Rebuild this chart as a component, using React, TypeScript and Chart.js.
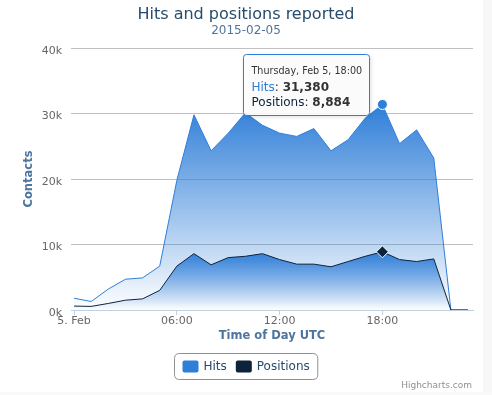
import React, { useEffect, useRef } from "react";
import { Chart, registerables } from "chart.js";

Chart.register(...registerables);

const HOURS = [0, 1, 2, 3, 4, 5, 6, 7, 8, 9, 10, 11, 12, 13, 14, 15, 16, 17, 18, 19, 20, 21, 22, 23];
const HITS = [1800, 1300, 3200, 4700, 4900, 6700, 19800, 29800, 24300, 27000, 30100, 28200, 27000, 26500, 27700, 24300, 26000, 29300, 31380, 25400, 27500, 23200, 0, 0];
const POSITIONS = [600, 550, 1000, 1500, 1700, 3000, 6700, 8600, 6900, 8000, 8200, 8600, 7700, 7000, 7000, 6600, 7400, 8200, 8884, 7700, 7400, 7800, 0, 0];
const SERIES_NAMES = ["Hits", "Positions"];
const SERIES_COLORS = ["#2f7ed8", "#0d233a"];
const X_TICKS = [0, 6, 12, 18];
const X_TICK_LABELS = ["5. Feb", "06:00", "12:00", "18:00"];
const Y_TICKS = [0, 10000, 20000, 30000, 40000];
const TITLE = "Hits and positions reported";
const SUBTITLE = "2015-02-05";
const X_TITLE = "Time of Day UTC";
const Y_TITLE = "Contacts";
const CREDITS = "Highcharts.com";
const HOVER_INDEX = 18;
const TOOLTIP_HEADER = "Thursday, Feb 5, 18:00";

const FONT = '"DejaVu Sans", Verdana, sans-serif';

function fmt(n: number): string {
  return n.toLocaleString("en-US");
}

function gradientFill(values: number[]) {
  return (ctx: any) => {
    const chart = ctx.chart;
    const area = chart.chartArea;
    if (!area) return "rgba(47,126,216,0.5)";
    const y = chart.scales.y;
    const top = y.getPixelForValue(Math.max(...values));
    const g = chart.ctx.createLinearGradient(0, top, 0, area.bottom);
    g.addColorStop(0, "rgba(47,126,216,1)");
    g.addColorStop(1, "rgba(47,126,216,0)");
    return g;
  };
}

function roundRect(c: CanvasRenderingContext2D, x: number, y: number, w: number, h: number, r: number) {
  c.beginPath();
  c.moveTo(x + r, y);
  c.lineTo(x + w - r, y);
  c.quadraticCurveTo(x + w, y, x + w, y + r);
  c.lineTo(x + w, y + h - r);
  c.quadraticCurveTo(x + w, y + h, x + w - r, y + h);
  c.lineTo(x + r, y + h);
  c.quadraticCurveTo(x, y + h, x, y + h - r);
  c.lineTo(x, y + r);
  c.quadraticCurveTo(x, y, x + r, y);
  c.closePath();
}

const decorPlugin = {
  id: "decor",
  afterDraw(chart: any) {
    const c: CanvasRenderingContext2D = chart.ctx;
    const area = chart.chartArea;
    const W = chart.width;
    c.save();
    // Title
    c.textAlign = "center";
    c.textBaseline = "alphabetic";
    c.fillStyle = "#274b6d";
    c.font = `16px ${FONT}`;
    c.fillText(TITLE, W / 2, 19);
    c.fillStyle = "#4d759e";
    c.font = `12px ${FONT}`;
    c.fillText(SUBTITLE, W / 2, 34);

    // Axis titles
    c.font = `bold 11.5px ${FONT}`;
    c.fillStyle = "#4d759e";
    c.textBaseline = "middle";
    c.fillText(X_TITLE, (area.left + area.right) / 2, 336);
    c.save();
    c.translate(29, (area.top + area.bottom) / 2);
    c.rotate(-Math.PI / 2);
    c.fillText(Y_TITLE, 0, 0);
    c.restore();

    // Legend
    c.font = `12px ${FONT}`;
    const w1 = c.measureText(SERIES_NAMES[0]).width;
    const w2 = c.measureText(SERIES_NAMES[1]).width;
    const total = 8 + 16 + 5 + w1 + 9 + 16 + 5 + w2 + 8;
    const lx = Math.round(W / 2 - total / 2) + 0.5;
    const ly = 353.5;
    roundRect(c, lx, ly, total, 26, 5);
    c.strokeStyle = "#909090";
    c.lineWidth = 1;
    c.stroke();
    let cx = lx + 8;
    const widths = [w1, w2];
    for (let i = 0; i < 2; i++) {
      roundRect(c, cx, 360.5, 16, 12, 2);
      c.fillStyle = SERIES_COLORS[i];
      c.fill();
      cx += 16 + 5;
      c.fillStyle = "#274b6d";
      c.textAlign = "left";
      c.textBaseline = "middle";
      c.fillText(SERIES_NAMES[i], cx, 367);
      cx += widths[i] + 9;
    }

    // Credits
    c.font = `9px ${FONT}`;
    c.fillStyle = "#909090";
    c.textAlign = "right";
    c.fillText(CREDITS, 472, 386);

    // Tooltip
    const px = chart.scales.x.getPixelForValue(HOURS[HOVER_INDEX]);
    const headFont = `9.6px ${FONT}`;
    c.font = headFont;
    const hw = c.measureText(TOOLTIP_HEADER).width;
    c.font = `12px ${FONT}`;
    const l2a = SERIES_NAMES[0];
    const l2b = ": ";
    const l2c = fmt(HITS[HOVER_INDEX]);
    const l3a = SERIES_NAMES[1];
    const l3c = fmt(POSITIONS[HOVER_INDEX]);
    const wa2 = c.measureText(l2a).width;
    const wb = c.measureText(l2b).width;
    const wa3 = c.measureText(l3a).width;
    c.font = `bold 12px ${FONT}`;
    const wc2 = c.measureText(l2c).width;
    const wc3 = c.measureText(l3c).width;
    const tw = Math.max(hw, wa2 + wb + wc2, wa3 + wb + wc3);
    const bw = Math.round(tw + 15);
    const bx = Math.round(px - 13 - bw) + 0.5;
    const by = 54.5;
    const bh = 61;
    c.save();
    c.shadowColor = "rgba(0,0,0,0.18)";
    c.shadowBlur = 4;
    c.shadowOffsetX = 1;
    c.shadowOffsetY = 1;
    roundRect(c, bx, by, bw, bh, 3);
    c.fillStyle = "rgba(255,255,255,0.9)";
    c.fill();
    c.restore();
    roundRect(c, bx, by, bw, bh, 3);
    c.strokeStyle = SERIES_COLORS[0];
    c.lineWidth = 1;
    c.stroke();
    const tx = bx + 8;
    c.textAlign = "left";
    c.textBaseline = "middle";
    c.font = headFont;
    c.fillStyle = "#333333";
    c.fillText(TOOLTIP_HEADER, tx, by + 17);
    c.font = `12px ${FONT}`;
    c.fillStyle = SERIES_COLORS[0];
    c.fillText(l2a, tx, by + 33);
    c.fillStyle = "#333333";
    c.fillText(l2b, tx + wa2, by + 33);
    c.font = `bold 12px ${FONT}`;
    c.fillText(l2c, tx + wa2 + wb, by + 33);
    c.font = `12px ${FONT}`;
    c.fillStyle = SERIES_COLORS[1];
    c.fillText(l3a, tx, by + 48);
    c.fillStyle = "#333333";
    c.fillText(l2b, tx + wa3, by + 48);
    c.font = `bold 12px ${FONT}`;
    c.fillText(l3c, tx + wa3 + wb, by + 48);
    c.restore();
  },
};

export default function App() {
  const ref = useRef<HTMLCanvasElement | null>(null);
  useEffect(() => {
    if (!ref.current) return;
    const hover = (ctx: any) => (ctx.dataIndex === HOVER_INDEX ? 5 : 0);
    const chart = new Chart(ref.current, {
      type: "line",
      data: {
        datasets: [
          {
            label: SERIES_NAMES[0],
            data: HOURS.map((h, i) => ({ x: h, y: HITS[i] })),
            borderColor: SERIES_COLORS[0],
            borderWidth: 1,
            backgroundColor: gradientFill(HITS),
            fill: "origin",
            tension: 0,
            order: 1,
            pointRadius: hover,
            pointBackgroundColor: SERIES_COLORS[0],
            pointBorderColor: "#ffffff",
            pointBorderWidth: 1,
            pointStyle: "circle",
          },
          {
            label: SERIES_NAMES[1],
            data: HOURS.map((h, i) => ({ x: h, y: POSITIONS[i] })),
            borderColor: SERIES_COLORS[1],
            borderWidth: 1,
            backgroundColor: gradientFill(POSITIONS),
            fill: "origin",
            tension: 0,
            order: 0,
            pointRadius: (ctx: any) => (ctx.dataIndex === HOVER_INDEX ? 6 : 0),
            pointBackgroundColor: SERIES_COLORS[1],
            pointBorderColor: "#ffffff",
            pointBorderWidth: 1,
            pointStyle: "rectRot",
          },
        ],
      } as any,
      options: {
        animation: false,
        responsive: false,
        devicePixelRatio: 1,
        events: [],
        layout: { padding: { left: 0, top: 48, right: 19, bottom: 45 } },
        plugins: {
          legend: { display: false },
          tooltip: { enabled: false },
          title: { display: false },
        },
        scales: {
          x: {
            type: "linear",
            min: -0.18,
            max: 23.29,
            afterBuildTicks: (s: any) => {
              s.ticks = X_TICKS.map((v) => ({ value: v }));
            },
            afterFit: (s: any) => {
              s.height = 40;
            },
            ticks: {
              autoSkip: false,
              maxRotation: 0,
              color: "#666666",
              font: { family: FONT, size: 11 },
              padding: 0,
              callback: (v: any) => X_TICK_LABELS[X_TICKS.indexOf(Number(v))],
            },
            grid: {
              drawOnChartArea: false,
              drawTicks: true,
              tickLength: 5,
              color: "#C0D0E0",
            },
            border: { display: true, color: "#C0D0E0", width: 1 },
          },
          y: {
            type: "linear",
            min: 0,
            max: 40000,
            afterBuildTicks: (s: any) => {
              s.ticks = Y_TICKS.map((v) => ({ value: v }));
            },
            afterFit: (s: any) => {
              s.width = 71;
            },
            ticks: {
              color: "#666666",
              font: { family: FONT, size: 11 },
              padding: 9,
              labelOffset: 3,
              callback: (v: any) => `${Number(v) / 1000}k`,
            },
            grid: {
              drawTicks: false,
              color: (ctx: any) => (ctx.tick && ctx.tick.value === 0 ? "rgba(0,0,0,0)" : "#C0C0C0"),
            },
            border: { display: false },
          },
        },
      },
      plugins: [decorPlugin],
    } as any);
    return () => chart.destroy();
  }, []);

  return (
    <div style={{ position: "fixed", left: 0, top: 0, width: 492, height: 395, background: "#ffffff" }}>
      <canvas ref={ref} width={492} height={395} style={{ display: "block" }} />
      <div style={{ position: "absolute", left: 483, top: 0, width: 9, height: 395, background: "#f7f7f8" }} />
      <div style={{ position: "absolute", left: 0, top: 392, width: 492, height: 3, background: "#f9f9fa" }} />
    </div>
  );
}
